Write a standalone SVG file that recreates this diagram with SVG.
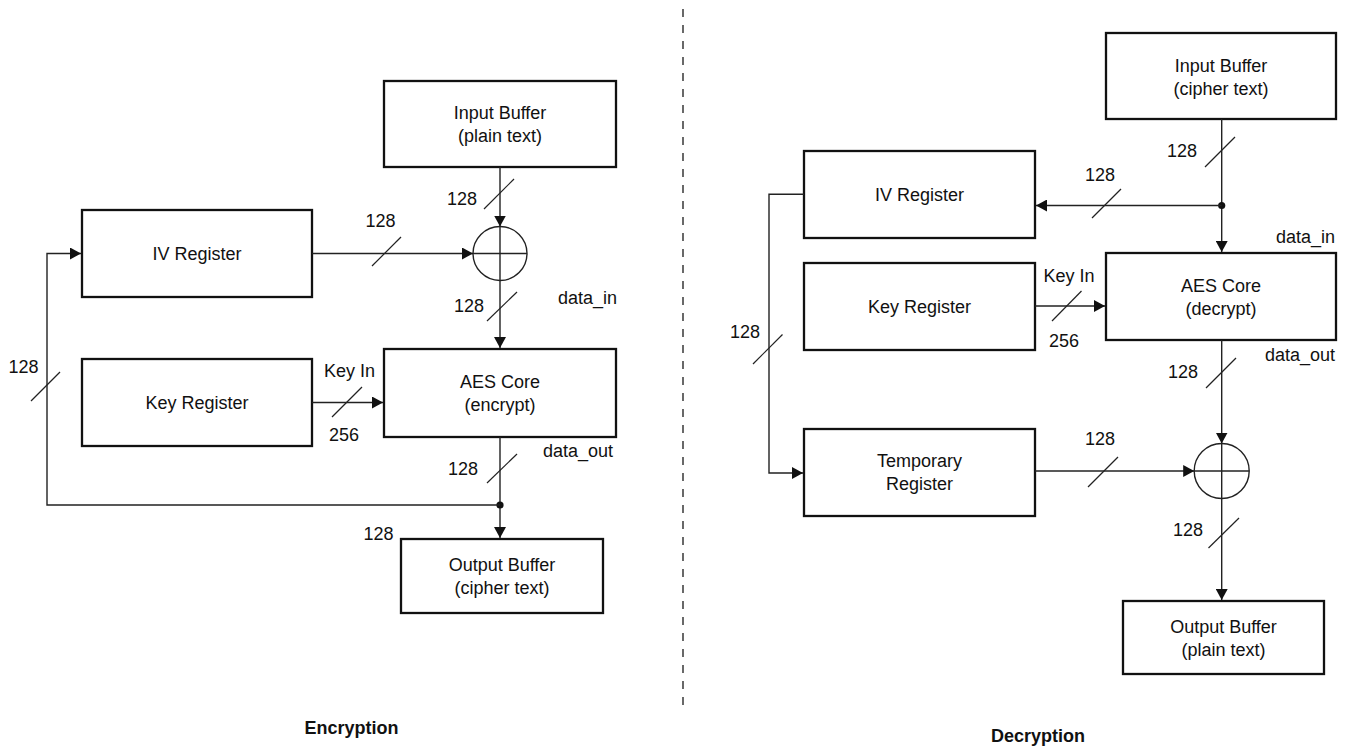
<svg xmlns="http://www.w3.org/2000/svg" width="1348" height="749" viewBox="0 0 1348 749">
<defs>
<marker id="arr" markerUnits="userSpaceOnUse" markerWidth="12" markerHeight="12" refX="11" refY="6" orient="auto">
<path d="M0,0 L11,6 L0,12 z" fill="#111"/>
</marker>
<style>
.box{fill:#fff;stroke:#111;stroke-width:2.3}
.t{font-family:"Liberation Sans",Arial,Helvetica,sans-serif;font-size:18px;fill:#111;text-anchor:middle}
.lbl{font-family:"Liberation Sans",Arial,Helvetica,sans-serif;font-size:18px;fill:#111}
.ttl{font-family:"Liberation Sans",Arial,Helvetica,sans-serif;font-size:18px;font-weight:bold;fill:#111;text-anchor:middle}
.w{fill:none;stroke:#222;stroke-width:1.4}
.a{fill:none;stroke:#222;stroke-width:1.4;marker-end:url(#arr)}
.s{stroke:#222;stroke-width:1.2}
.x{fill:#fff;stroke:#222;stroke-width:1.4}
.dot{fill:#111}
</style>
</defs>
<rect width="1348" height="749" fill="#fff"/>
<line x1="683" y1="9" x2="683" y2="710" stroke="#444" stroke-width="1.6" stroke-dasharray="8,8"/>

<!-- Encryption side -->
<g id="enc-input">
<rect class="box" x="384" y="81" width="232" height="86"/>
<text class="t" x="500" y="119">Input Buffer</text>
<text class="t" x="500" y="142">(plain text)</text>
</g>
<g id="enc-iv">
<rect class="box" x="82" y="210" width="230" height="87"/>
<text class="t" x="197" y="259.5">IV Register</text>
</g>
<g id="enc-key">
<rect class="box" x="82" y="359" width="230" height="87"/>
<text class="t" x="197" y="408.5">Key Register</text>
</g>
<g id="enc-aes">
<rect class="box" x="384" y="349" width="232" height="88"/>
<text class="t" x="500" y="388">AES Core</text>
<text class="t" x="500" y="411">(encrypt)</text>
</g>
<g id="enc-output">
<rect class="box" x="401" y="539" width="202" height="74"/>
<text class="t" x="502" y="571">Output Buffer</text>
<text class="t" x="502" y="594">(cipher text)</text>
</g>
<g id="enc-xor">
<circle class="x" cx="500" cy="253.5" r="27"/>
<line class="w" x1="473" y1="253.5" x2="527" y2="253.5"/>
<line class="w" x1="500" y1="226.5" x2="500" y2="280.5"/>
</g>

<!-- Decryption side -->
<g id="dec-input">
<rect class="box" x="1106" y="33" width="230" height="86"/>
<text class="t" x="1221" y="71.5">Input Buffer</text>
<text class="t" x="1221" y="94.5">(cipher text)</text>
</g>
<g id="dec-iv">
<rect class="box" x="804" y="151" width="231" height="87"/>
<text class="t" x="919.5" y="200.5">IV Register</text>
</g>
<g id="dec-key">
<rect class="box" x="804" y="263" width="231" height="87"/>
<text class="t" x="919.5" y="312.5">Key Register</text>
</g>
<g id="dec-aes">
<rect class="box" x="1106" y="253" width="230" height="87"/>
<text class="t" x="1221" y="292">AES Core</text>
<text class="t" x="1221" y="315">(decrypt)</text>
</g>
<g id="dec-temp">
<rect class="box" x="804" y="429" width="231" height="87"/>
<text class="t" x="919.5" y="467">Temporary</text>
<text class="t" x="919.5" y="490">Register</text>
</g>
<g id="dec-output">
<rect class="box" x="1123" y="601" width="201" height="73"/>
<text class="t" x="1223.5" y="632.5">Output Buffer</text>
<text class="t" x="1223.5" y="655.5">(plain text)</text>
</g>
<g id="dec-xor">
<circle class="x" cx="1221.7" cy="471" r="27.5"/>
<line class="w" x1="1194.2" y1="471" x2="1249.2" y2="471"/>
<line class="w" x1="1221.7" y1="443.5" x2="1221.7" y2="498.5"/>
</g>

<g id="connectors">
<!-- encryption -->
<line class="a" x1="500" y1="167" x2="500" y2="226.5"/>
<line class="s" x1="484" y1="209" x2="514" y2="179"/>
<line class="a" x1="312" y1="253.5" x2="473" y2="253.5"/>
<line class="s" x1="372" y1="266" x2="401" y2="237"/>
<line class="a" x1="500" y1="280.5" x2="500" y2="348"/>
<line class="s" x1="487" y1="321" x2="517" y2="292"/>
<line class="a" x1="312" y1="402.5" x2="383" y2="402.5"/>
<line class="s" x1="332" y1="417" x2="362" y2="387"/>
<line class="a" x1="500" y1="437" x2="500" y2="538"/>
<line class="s" x1="487" y1="483" x2="517" y2="454"/>
<circle class="dot" cx="500" cy="505" r="3.6"/>
<polyline class="a" points="500,505 47,505 47,253.5 81,253.5"/>
<line class="s" x1="31" y1="401" x2="60" y2="372"/>

<!-- decryption -->
<line class="a" x1="1221.7" y1="119" x2="1221.7" y2="252"/>
<line class="s" x1="1205" y1="167" x2="1235" y2="137"/>
<circle class="dot" cx="1221.7" cy="205.5" r="3.6"/>
<line class="a" x1="1221.7" y1="205.5" x2="1036" y2="205.5"/>
<line class="s" x1="1092" y1="218" x2="1121" y2="189"/>
<polyline class="a" points="804,194.3 769,194.3 769,473 803,473"/>
<line class="s" x1="753" y1="364" x2="782.5" y2="334.5"/>
<line class="a" x1="1035" y1="306" x2="1105" y2="306"/>
<line class="s" x1="1052" y1="321" x2="1081.5" y2="291"/>
<line class="a" x1="1221.7" y1="340" x2="1221.7" y2="443.5"/>
<line class="s" x1="1206" y1="388" x2="1236" y2="358"/>
<line class="a" x1="1035" y1="471" x2="1194.2" y2="471"/>
<line class="s" x1="1088" y1="487" x2="1118" y2="457"/>
<line class="a" x1="1221.7" y1="498.5" x2="1221.7" y2="600"/>
<line class="s" x1="1208.5" y1="548" x2="1239" y2="518"/>
</g>

<g id="labels">
<text class="t" x="462" y="205">128</text>
<text class="t" x="380.5" y="227">128</text>
<text class="t" x="469" y="312">128</text>
<text class="lbl" x="558" y="304">data_in</text>
<text class="t" x="349.5" y="377">Key In</text>
<text class="t" x="344" y="441">256</text>
<text class="t" x="463" y="475">128</text>
<text class="lbl" x="543" y="457">data_out</text>
<text class="t" x="23.5" y="373">128</text>
<text class="t" x="378.5" y="540">128</text>
<text class="ttl" x="351.5" y="734">Encryption</text>

<text class="t" x="1182" y="157">128</text>
<text class="t" x="1100" y="181">128</text>
<text class="t" x="745" y="338">128</text>
<text class="lbl" x="1276" y="243">data_in</text>
<text class="t" x="1069" y="282">Key In</text>
<text class="t" x="1064" y="347">256</text>
<text class="lbl" x="1265" y="361">data_out</text>
<text class="t" x="1183" y="378">128</text>
<text class="t" x="1100" y="445">128</text>
<text class="t" x="1188" y="536">128</text>
<text class="ttl" x="1038" y="742">Decryption</text>
</g>
</svg>
